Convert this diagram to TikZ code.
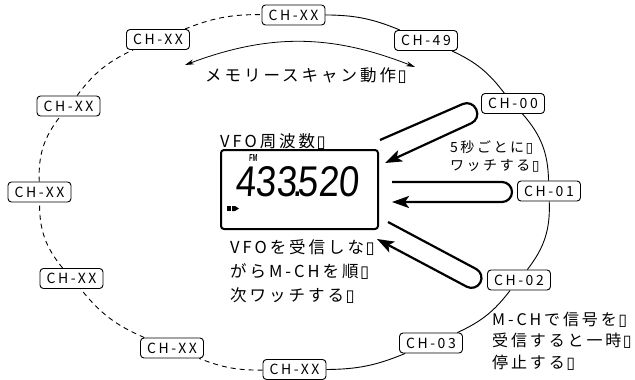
\documentclass[tikz,border=0pt]{standalone}
\usepackage{fontspec}
\usetikzlibrary{arrows.meta}
\newfontfamily\jpfont[LetterSpace=18]{Noto Sans CJK JP}
\newfontfamily\tofufont{DejaVu Sans}
\newfontfamily\lcdfont[FakeSlant=0.08]{Liberation Sans}
\newcommand\tofu{\kern1.5pt{\tofufont\symbol{"25AF}}}
\begin{document}
\begin{tikzpicture}[x=1pt,y=-1pt,
  chbox/.style={draw, line width=0.9pt, rounded corners=3.5pt, fill=white,
    minimum width=63pt, minimum height=20pt, inner sep=0pt,
    font=\jpfont\fontsize{14}{16}\selectfont},
  ring/.style={line width=0.9pt},
  ringdash/.style={line width=0.9pt, dash pattern=on 5pt off 4pt},
  lbl/.style={inner sep=0pt, anchor=base west, align=left},
  bigtxt/.style={font=\jpfont\fontsize{16.5}{24}\selectfont},
  hairpin/.style={line width=2.2pt, rounded corners=10pt,
    -{Stealth[length=17pt,width=12pt,inset=4pt]}},
  scanarrow/.style={line width=0.8pt,
    {Stealth[length=9pt,width=5pt]}-{Stealth[length=9pt,width=5pt]}},
]
\useasboundingbox (0,0) rectangle (635,380);

% channel boxes on the ring
\node[chbox] (t)   at (293.5,15)  {CH-XX};
\node[chbox] (c49) at (426,40.5)  {CH-49};
\node[chbox] (c00) at (513,103.5) {CH-00};
\node[chbox] (c01) at (549,191)   {CH-01};
\node[chbox] (c02) at (519,280)   {CH-02};
\node[chbox] (c03) at (431,343)   {CH-03};
\node[chbox] (b)   at (294.5,369.5) {CH-XX};
\node[chbox] (bl)  at (172,348)   {CH-XX};
\node[chbox] (ll)  at (71.5,278.5) {CH-XX};
\node[chbox] (l)   at (39.5,192)  {CH-XX};
\node[chbox] (lu)  at (68.5,106)  {CH-XX};
\node[chbox] (tl)  at (158,39.5)  {CH-XX};

% ring connectors
\draw[ring] (t) to[bend left=11] (c49);
\draw[ring] (c49) to[bend left=14] (c00);
\draw[ring] (c00) to[bend left=20] (c01);
\draw[ring] (c01) to[bend left=20] (c02);
\draw[ring] (c02) to[bend left=14] (c03);
\draw[ring] (c03) to[bend left=11] (b);
\draw[ringdash] (b) to[bend left=11] (bl);
\draw[ringdash] (bl) to[bend left=14] (ll);
\draw[ringdash] (ll) to[bend left=20] (l);
\draw[ringdash] (l) to[bend left=20] (lu);
\draw[ringdash] (lu) to[bend left=14] (tl);
\draw[ringdash] (tl) to[bend left=11] (t);

% memory scan arrow
\coordinate (sL) at (185,65);
\coordinate (sR) at (415,67);
\draw[scanarrow] (sL) to[bend left=21] (sR);
\node[lbl, bigtxt] (scan) at (205,81) {メモリースキャン動作\tofu};

% LCD
\node[lbl, bigtxt] (vfof) at (220,147.5) {VFO周波数\tofu};
\node[draw, line width=2pt, rounded corners=3pt, minimum width=157pt,
  minimum height=79pt, anchor=north west, inner sep=0pt] (lcd) at (220,149) {};
\node[inner sep=0pt, anchor=south west] (fm) at (249,162)
  {\resizebox{8pt}{7pt}{\lcdfont\bfseries FM}};
\node[inner sep=0pt, anchor=south west] (freq) at (235,197)
  {\resizebox{124pt}{30pt}{\lcdfont 433\kern-0.12em.\kern-0.12em520}};
\fill (227,206) rectangle (231,211);
\fill (232,206) -- (235,206) -- (239,208.5) -- (235,211) -- (232,211) -- cycle;

% hairpin arrows
\coordinate (h1s) at (380,140);
\coordinate (h1e) at (385,163);
\draw[hairpin] (h1s) -- (472,100) -- (480.5,119) -- (h1e);
\coordinate (h2s) at (392,182);
\coordinate (h2e) at (392,202);
\draw[hairpin] (h2s) -- (512,182) -- (512,202) -- (h2e);
\coordinate (h3s) at (388,222);
\coordinate (h3e) at (377,239);
\draw[hairpin] (h3s) -- (485,273.7) -- (475.6,291.4) -- (h3e);

% labels (base anchor = baseline of the last line)
\node[lbl, bigtxt] (vfowatch) at (230,301)
  {VFOを受信しな\tofu\\がらM-CHを順\tofu\\次ワッチする\tofu};
\node[lbl, font=\jpfont\fontsize{14}{18}\selectfont] (every5) at (450,170)
  {5秒ごとに\tofu\\ワッチする\tofu};
\node[lbl, font=\jpfont\fontsize{16}{21.5}\selectfont] (stop) at (492,368)
  {M-CHで信号を\tofu\\受信すると一時\tofu\\停止する\tofu};
\end{tikzpicture}
\end{document}
